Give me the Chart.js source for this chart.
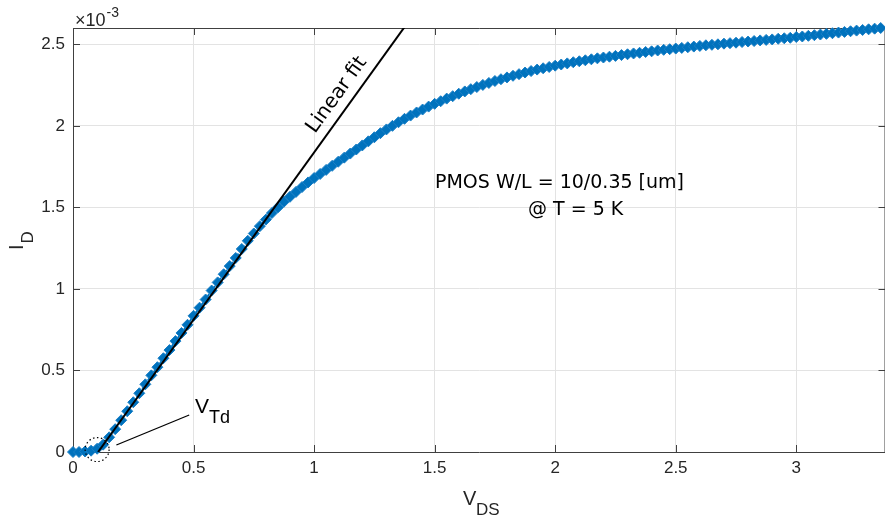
<!DOCTYPE html>
<html><head><meta charset="utf-8">
<script src="https://cdn.jsdelivr.net/npm/chart.js@4/dist/chart.umd.min.js"></script>
<style>
html,body{margin:0;padding:0;background:#fff;overflow:hidden;width:885px;height:521px}
#wrap{width:892px;height:521px;position:relative}
</style></head>
<body><div id="wrap"><canvas id="c" width="892" height="521"></canvas></div>
<script>
// V_DS sample points [V]
const vds = [
0.000,0.025,0.050,0.075,0.100,0.125,0.150,0.175,0.200,0.225,
0.250,0.275,0.300,0.325,0.350,0.375,0.400,0.425,0.450,0.475,
0.500,0.525,0.550,0.575,0.600,0.625,0.650,0.675,0.700,0.725,
0.750,0.775,0.800,0.825,0.850,0.875,0.900,0.925,0.950,0.975,
1.000,1.025,1.050,1.075,1.100,1.125,1.150,1.175,1.200,1.225,
1.250,1.275,1.300,1.325,1.350,1.375,1.400,1.425,1.450,1.475,
1.500,1.525,1.550,1.575,1.600,1.625,1.650,1.675,1.700,1.725,
1.750,1.775,1.800,1.825,1.850,1.875,1.900,1.925,1.950,1.975,
2.000,2.025,2.050,2.075,2.100,2.125,2.150,2.175,2.200,2.225,
2.250,2.275,2.300,2.325,2.350,2.375,2.400,2.425,2.450,2.475,
2.500,2.525,2.550,2.575,2.600,2.625,2.650,2.675,2.700,2.725,
2.750,2.775,2.800,2.825,2.850,2.875,2.900,2.925,2.950,2.975,
3.000,3.025,3.050,3.075,3.100,3.125,3.150,3.175,3.200,3.225,
3.250,3.275,3.300,3.325,3.350];
// I_D in units of 1e-3 A
const idMilli = [
0,0,0.003,0.008,0.02,0.045,0.09,0.14,0.195,0.25,
0.305,0.36,0.415,0.47,0.52,0.575,0.625,0.68,0.73,0.78,
0.835,0.885,0.935,0.99,1.04,1.09,1.14,1.19,1.245,1.295,
1.34,1.385,1.425,1.465,1.50,1.535,1.565,1.595,1.625,1.653,
1.68,1.705,1.73,1.755,1.78,1.805,1.83,1.855,1.88,1.905,
1.93,1.955,1.978,2.00,2.022,2.043,2.063,2.082,2.10,2.118,
2.135,2.151,2.167,2.182,2.197,2.211,2.225,2.238,2.251,2.263,
2.275,2.286,2.297,2.307,2.317,2.327,2.336,2.345,2.353,2.361,
2.369,2.376,2.383,2.39,2.396,2.402,2.408,2.414,2.419,2.424,
2.429,2.434,2.439,2.444,2.448,2.453,2.457,2.462,2.466,2.47,
2.474,2.478,2.482,2.486,2.49,2.494,2.497,2.50,2.504,2.507,
2.51,2.514,2.517,2.52,2.524,2.527,2.53,2.534,2.537,2.54,
2.545,2.548,2.552,2.556,2.56,2.564,2.568,2.572,2.576,2.58,
2.584,2.588,2.592,2.596,2.60];
// Linear fit end points
const fitV = [0.104, 1.42];
const fitI = [0, 2.698];
const xTicks = [0,0.5,1,1.5,2,2.5,3];
const yTicks = [0,0.5,1,1.5,2,2.5];
const vtdMark = {v:0.1, i:0.015};
const vtdLeader = {v1:0.18, i1:0.043, v2:0.482, i2:0.227};

const fmt = v => String(Math.round(v*100)/100);

const annot = {
  id:'annot',
  beforeDatasetsDraw(chart){
    const {ctx, chartArea:a, scales:{x,y}} = chart;
    ctx.save();
    ctx.strokeStyle='#404040'; ctx.lineWidth=1;
    ctx.beginPath();
    ctx.moveTo(a.left, a.top+0.5); ctx.lineTo(a.right, a.top+0.5);
    ctx.moveTo(a.right-0.5, a.top); ctx.lineTo(a.right-0.5, a.bottom);
    ctx.stroke();
    ctx.beginPath();
    xTicks.forEach(v=>{const px=Math.round(x.getPixelForValue(v))+0.5;
      ctx.moveTo(px,a.bottom); ctx.lineTo(px,a.bottom-7);
      ctx.moveTo(px,a.top); ctx.lineTo(px,a.top+7);});
    yTicks.forEach(v=>{const py=Math.round(y.getPixelForValue(v))+0.5;
      ctx.moveTo(a.left,py); ctx.lineTo(a.left+7,py);
      ctx.moveTo(a.right,py); ctx.lineTo(a.right-7,py);});
    ctx.stroke();
    ctx.restore();
  },
  afterDatasetsDraw(chart){
    const {ctx, chartArea:a, scales:{x,y}} = chart;
    ctx.save();
    // dotted circle at V_Td
    ctx.strokeStyle='#000'; ctx.lineWidth=1.2; ctx.setLineDash([1.5,2.5]);
    ctx.beginPath(); ctx.arc(x.getPixelForValue(vtdMark.v), y.getPixelForValue(vtdMark.i), 12, 0, Math.PI*2); ctx.stroke();
    ctx.setLineDash([]);
    ctx.lineWidth=1.3;
    ctx.beginPath();
    ctx.moveTo(x.getPixelForValue(vtdLeader.v1), y.getPixelForValue(vtdLeader.i1));
    ctx.lineTo(x.getPixelForValue(vtdLeader.v2), y.getPixelForValue(vtdLeader.i2));
    ctx.stroke();
    ctx.fillStyle='#000';
    ctx.textAlign='left'; ctx.textBaseline='alphabetic';
    // V_Td label
    ctx.font='21px "Liberation Sans"';
    ctx.fillText('V',195,413);
    ctx.font='18px "Liberation Sans"';
    ctx.fillText('Td',209,423);
    // PMOS text
    ctx.font='19px "DejaVu Sans"';
    ctx.fillText('PMOS W/L = 10/0.35 [um]',435,188);
    ctx.fillText('@ T = 5 K',528,215);
    // Linear fit label rotated along fit line
    const p1x=x.getPixelForValue(fitV[0]), p1y=y.getPixelForValue(fitI[0]);
    const p2x=x.getPixelForValue(fitV[1]), p2y=y.getPixelForValue(fitI[1]);
    const ang=Math.atan2(p2y-p1y,p2x-p1x);
    ctx.save(); ctx.translate(315,134); ctx.rotate(ang);
    ctx.font='20px "DejaVu Sans"'; ctx.fillText('Linear fit',0,0); ctx.restore();
    // exponent
    ctx.fillStyle='#262626';
    ctx.font='18px "Liberation Sans"';
    ctx.fillText('\u00d710',75,26);
    const w=ctx.measureText('\u00d710').width;
    ctx.font='14px "Liberation Sans"';
    ctx.fillText('-3',75+w+1,17);
    // axis titles
    ctx.font='20px "Liberation Sans"';
    ctx.fillText('V',463,505);
    ctx.font='17px "Liberation Sans"';
    ctx.fillText('DS',476,515);
    ctx.save(); ctx.translate(23,250); ctx.rotate(-Math.PI/2);
    ctx.font='20px "Liberation Sans"'; ctx.fillText('I',0,0);
    const wi=ctx.measureText('I').width;
    ctx.font='17px "Liberation Sans"'; ctx.fillText('D',wi+1,10);
    ctx.restore();
    ctx.restore();
  }
};

new Chart(document.getElementById('c'), {
  type:'scatter',
  data:{datasets:[
    {label:'Linear fit', data: fitV.map((v,i)=>({x:v,y:fitI[i]})), showLine:true,
     borderColor:'#000', borderWidth:2, pointRadius:0, clip:0, order:0},
    {label:'I_D', data: vds.map((v,i)=>({x:v,y:idMilli[i]})), showLine:true,
     borderColor:'#0072BD', borderWidth:2, borderDash:[6,4],
     pointStyle:'rectRot', pointRadius:5.5, pointBackgroundColor:'#0072BD',
     pointBorderColor:'#1a7fc6', pointBorderWidth:1, clip:false, order:1}
  ]},
  options:{
    responsive:false, animation:false, devicePixelRatio:1,
    layout:{padding:{top:28,right:3,left:0,bottom:0}},
    plugins:{legend:{display:false}, tooltip:{enabled:false}},
    scales:{
      x:{type:'linear', min:0, max:3.37,
        afterFit(s){s.height=69;},
        ticks:{stepSize:0.5, includeBounds:false, maxRotation:0, padding:6, callback:fmt,
          font:{family:'Liberation Sans', size:17}, color:'#262626'},
        grid:{color:'#e3e3e3', drawTicks:false, lineWidth:1},
        border:{color:'#404040', width:1}},
      y:{type:'linear', min:0, max:2.6,
        afterFit(s){s.width=73;},
        ticks:{stepSize:0.5, includeBounds:false, padding:8, callback:fmt,
          font:{family:'Liberation Sans', size:17}, color:'#262626'},
        grid:{color:'#e3e3e3', drawTicks:false, lineWidth:1},
        border:{color:'#404040', width:1}}
    }
  },
  plugins:[annot]
});
</script>
</body></html>
